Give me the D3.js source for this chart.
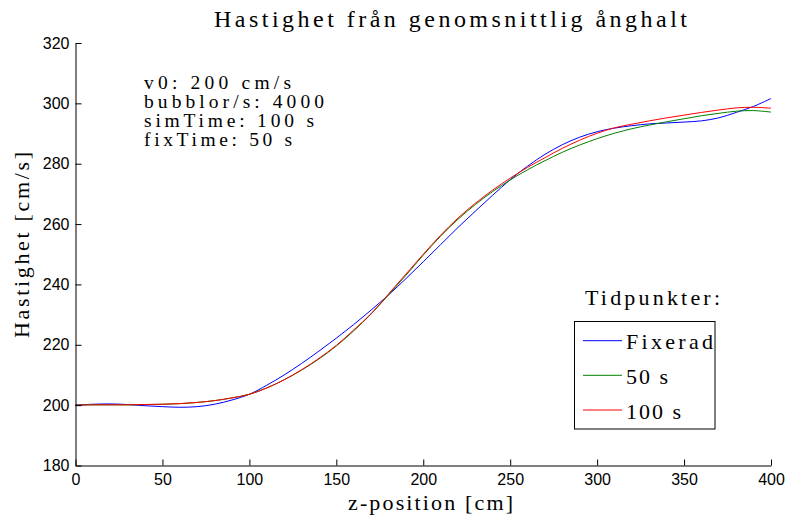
<!DOCTYPE html>
<html>
<head>
<meta charset="utf-8">
<script src="https://cdn.jsdelivr.net/npm/d3@7"></script>
<style>
  html, body { margin: 0; padding: 0; background: #fff; }
  svg { display: block; }
</style>
</head>
<body>
<svg id="chart" width="787" height="517"></svg>
<script>
// ---- data ----
const zPositions = [0,10,20,30,40,50,60,70,80,90,100,110,120,130,140,150,160,170,180,190,200,
                    210,220,230,240,250,260,270,280,290,300,310,320,330,340,350,360,370,380,390,400];
const fixerad = [200.0,200.3,200.4,200.2,199.8,199.5,199.3,199.5,200.3,201.7,203.6,206.6,210.0,213.8,217.9,222.2,226.7,231.5,236.5,241.9,247.5,
                 253.2,258.9,264.3,269.6,274.7,279.2,283.1,286.3,288.8,290.6,291.8,292.6,293.2,293.5,293.8,294.2,295.2,297.0,299.0,301.6];
const t50 =     [200.0,200.1,200.1,200.1,200.2,200.3,200.5,200.9,201.5,202.4,203.6,205.7,208.4,211.6,215.3,219.6,224.6,230.2,236.5,243.0,249.7,
                 256.0,261.6,266.5,270.8,274.6,278.0,281.0,283.8,286.2,288.3,290.1,291.6,292.8,293.9,294.9,295.9,296.7,297.4,297.6,297.1];
const t100 =    [200.0,200.1,200.1,200.1,200.2,200.3,200.5,200.9,201.5,202.4,203.6,205.7,208.4,211.7,215.5,219.8,224.9,230.3,236.8,243.4,250.0,
                 256.3,262.0,266.9,271.3,275.2,278.8,282.0,285.1,287.8,290.1,291.9,293.1,294.2,295.2,296.1,297.0,297.8,298.5,298.7,298.4];
const seriesNames = ["Fixerad", "50 s", "100 s"];
const seriesValues = [fixerad, t50, t100];
const seriesColors = ["#0000ff", "#008000", "#ff0000"];
const xTicks = [0,50,100,150,200,250,300,350,400];
const yTicks = [180,200,220,240,260,280,300,320];
const annotationLines = ["v0: 200 cm/s", "bubblor/s: 4000", "simTime: 100 s", "fixTime: 50 s"];
const titleText = "Hastighet från genomsnittlig ånghalt";
const xLabelText = "z-position [cm]";
const yLabelText = "Hastighet [cm/s]";
const legendTitle = "Tidpunkter:";

// ---- layout ----
const svg = d3.select("#chart");
const X0 = 75.5, X1 = 771, Y0 = 465.5, Y1 = 43;
const x = d3.scaleLinear().domain([0, 400]).range([X0, X1]);
const y = d3.scaleLinear().domain([180, 320]).range([Y0, Y1]);
const SERIF = '"Liberation Serif"';
const SANS = '"Liberation Sans"';

// curves
const line = d3.line().x(d => x(d[0])).y(d => y(d[1])).curve(d3.curveCatmullRom.alpha(0.5));
seriesValues.forEach((vals, i) => {
  svg.append("path")
    .datum(zPositions.map((z, j) => [z, vals[j]]))
    .attr("fill", "none")
    .attr("stroke", seriesColors[i])
    .attr("stroke-width", 1)
    .attr("d", line);
});

// axes
const xAxis = svg.append("g").attr("transform", `translate(0,${Y0})`)
  .call(d3.axisBottom(x).tickValues(xTicks).tickSizeInner(-6).tickSizeOuter(0).tickPadding(8).tickFormat(d3.format("d")));
const yAxis = svg.append("g").attr("transform", `translate(${X0},0)`)
  .call(d3.axisLeft(y).tickValues(yTicks).tickSizeInner(-6).tickSizeOuter(0).tickPadding(6).tickFormat(d3.format("d")));
[xAxis, yAxis].forEach(g => {
  g.selectAll("path.domain").attr("stroke", "#000").attr("stroke-width", 1);
  g.selectAll(".tick line").attr("stroke", "#000").attr("stroke-width", 1);
  g.selectAll(".tick text").attr("fill", "#000").style("font-family", SANS).style("font-size", "16px");
});

// serif text stretched to a target width with letter-spacing
function fitSpacing(sel, target, str) {
  const nat = sel.node().getComputedTextLength();
  const ls = Math.max(-1, (target - nat) / Math.max(1, str.length - 1));
  sel.style("letter-spacing", ls + "px");
  return sel;
}
function serifText(xp, yp, str, len, size) {
  const t = svg.append("text").attr("x", xp).attr("y", yp)
    .style("font-family", SERIF).style("font-size", size + "px")
    .attr("fill", "#000").text(str);
  return fitSpacing(t, len, str);
}

// title
serifText(214, 27, titleText, 473, 24);
// x label
serifText(348, 510, xLabelText, 165, 22);
// y label
const yl = svg.append("text").attr("transform", "translate(29,338) rotate(-90)")
  .style("font-family", SERIF).style("font-size", "22px")
  .attr("fill", "#000").text(yLabelText);
fitSpacing(yl, 186, yLabelText);

// annotation
const annBaselines = [89, 108, 127, 146];
const annWidths = [147, 180, 170, 148];
annotationLines.forEach((t, i) => serifText(144, annBaselines[i], t, annWidths[i], 19.5));

// legend
serifText(585, 305, legendTitle, 135, 22);
svg.append("rect").attr("x", 574.5).attr("y", 321.5).attr("width", 140.5).attr("height", 107.5)
  .attr("fill", "#fff").attr("stroke", "#000").attr("stroke-width", 1);
const legY = [340.7, 375.3, 410];
const legW = [87, 42, 55];
seriesNames.forEach((n, i) => {
  svg.append("line").attr("x1", 583).attr("x2", 622).attr("y1", legY[i]).attr("y2", legY[i])
    .attr("stroke", seriesColors[i]).attr("stroke-width", 1);
  serifText(626, legY[i] + 8.5, n, legW[i], 22);
});
</script>
</body>
</html>
